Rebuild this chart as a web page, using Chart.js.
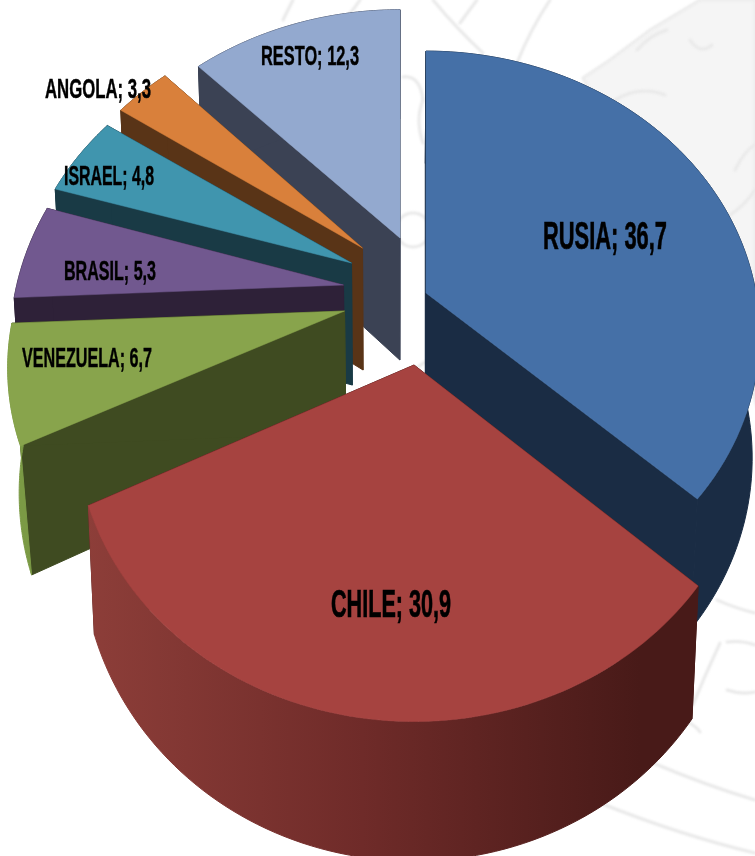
<!DOCTYPE html>
<html><head><meta charset="utf-8">
<style>html,body{margin:0;padding:0;background:#fff}canvas{display:block}</style>
<script src="https://cdn.jsdelivr.net/npm/chart.js@4"></script>
</head><body><canvas id="c" width="755" height="856"></canvas>
<script>
const categories = ["RUSIA","CHILE","VENEZUELA","BRASIL","ISRAEL","ANGOLA","RESTO"];
const shares = [36.7,30.9,6.7,5.3,4.8,3.3,12.3];
const topColors = ["#4570a7","#a64340","#88a44c","#71588f","#4095ae","#d9803b","#93a9cf"];
const sideColors = ["#1a2c44","#4a1b18","#3f4b21","#2e2138","#193a45","#593417","#3b4254"];
const rimColors = ["#1a2c44","#7a2f2c","#7b9a45","#2e2138","#193a45","#593417","#3b4254"];
// explosion of each slice relative to the pie centre and its perspective fit
const explode = [[48.5,-7],[36.5,65],[-33,11],[-34,-15],[-26,-37],[-15,-52],[22.5,-62]];
const fit = [{r:1,k:.84,p:.146,c:.02},{r:1.005,k:.86,p:.2,c:.02},{r:1,k:.83,p:.2,c:.03},{r:.99,k:.87,p:.2,c:.02},{r:.99,k:.84,p:.2,c:.02},{r:.98,k:.85,p:.2,c:.02},{r:1,k:.83,p:.2,c:.02}];
const drawOrder = [6,5,4,3,2,0,1];
// centre x, baseline y, cap-based font size, target width
const labelPos = [[605,249,39,124],[391,617,39,120],[87,367,27,130],[110,280,27,92],[109,185,27,90],[98,98,27,106],[310,65,27,98]];
const depth = 122;
// faint embossed seal behind the chart
const sealStrokes = [
  [[433,0],[458,30],[483,53]],[[477,0],[468,12],[460,23]],[[550,0],[530,30],[517,63]],
  [[293,0],[288,10],[283,20]],[[360,0],[354,9],[347,17]],
  [[403,77],[420,75],[423,100]],[[423,100],[415,120],[423,143]],
  [[380,395],[400,380],[425,362]],
  [[600,803],[680,835],[755,853]],[[653,763],[705,785],[755,800]],[[717,600],[735,608],[755,613]],
  [[720,643],[705,675],[692,707]],[[727,642],[742,640],[755,645]],[[727,690],[742,695],[755,692]],[[688,722],[697,727],[700,732]],
  [[637,50],[650,35],[667,30]],[[615,100],[640,85],[665,95]],[[735,170],[745,150],[755,145]],[[690,40],[700,55],[712,45]],[[730,215],[745,205],[755,190]]
];
const sealMap = [[583,78],[610,60],[650,30],[700,0],[755,0],[755,400],[735,330],[700,270],[640,180]];

const pie3d = {
  id:'pie3d',
  beforeDatasetDraw(){ return false; },
  beforeDraw(chart){
    const c=chart.ctx; c.save(); c.fillStyle='#fff'; c.fillRect(0,0,chart.width,chart.height);
    c.filter='blur(1px)';
    c.beginPath(); sealMap.forEach((q,j)=>j?c.lineTo(q[0],q[1]):c.moveTo(q[0],q[1])); c.closePath();
    c.fillStyle='#f5f5f5'; c.fill(); c.strokeStyle='#ececec'; c.lineWidth=3; c.stroke();
    c.lineCap='round'; c.strokeStyle='#e9e9e9'; c.lineWidth=3;
    sealStrokes.forEach(s=>{c.beginPath();c.moveTo(s[0][0],s[0][1]);c.quadraticCurveTo(s[1][0],s[1][1],s[2][0],s[2][1]);c.stroke();});
    c.beginPath(); c.arc(413,230,17,0,Math.PI*2); c.stroke();
    c.restore();
  },
  afterDatasetsDraw(chart){
    const ctx=chart.ctx, arcs=chart.getDatasetMeta(0).data;
    const vx=390;
    drawOrder.forEach(i=>{
      const a=arcs[i], f=fit[i], ax=a.x+explode[i][0], ay=a.y+explode[i][1], R=a.outerRadius*f.r;
      const P=t=>{const u=Math.cos(t),v=Math.sin(t),s=1/(1-f.p*v);return {x:ax+R*u*s,y:ay+f.k*R*v*s,s};};
      const L=q=>({x:q.x-(q.x-vx)*f.c,y:q.y+depth*Math.pow(q.s,.6)});
      const apex={x:ax,y:ay,s:1}, apexL=L(apex);
      const steps=[]; const n=80;
      for(let j=0;j<=n;j++) steps.push(P(a.startAngle+(a.endAngle-a.startAngle)*j/n));
      const poly=(pts,fill,lw)=>{ctx.beginPath();pts.forEach((q,j)=>j?ctx.lineTo(q.x,q.y):ctx.moveTo(q.x,q.y));ctx.closePath();ctx.fillStyle=fill;ctx.fill();ctx.strokeStyle=fill;ctx.lineWidth=lw;ctx.stroke();};
      poly([apex,steps[0],L(steps[0]),apexL],sideColors[i],1);
      poly([apex,steps[n],L(steps[n]),apexL],sideColors[i],1);
      let rim=rimColors[i];
      if(i===1){const g=ctx.createLinearGradient(85,0,640,0);g.addColorStop(0,'#8d3e39');g.addColorStop(.5,'#6f2b29');g.addColorStop(1,'#481a18');rim=g;}
      poly(steps.concat(steps.slice().reverse().map(L)),rim,1);
      poly([apex].concat(steps),a.options.backgroundColor,.5);
    });
    ctx.save();
    ctx.fillStyle='#000'; ctx.strokeStyle='#000'; ctx.textAlign='center'; ctx.textBaseline='alphabetic';
    categories.forEach((name,i)=>{
      const [x,y,size,w]=labelPos[i];
      const text=`${name}; ${String(shares[i]).replace('.',',')}`;
      ctx.font=`bold ${size}px "Liberation Sans"`;
      const sx=w/ctx.measureText(text).width;
      ctx.save(); ctx.translate(x,y); ctx.scale(sx,1);
      ctx.lineWidth=size/60; ctx.strokeText(text,0,0); ctx.fillText(text,0,0);
      ctx.restore();
    });
    ctx.restore();
  }
};

new Chart(document.getElementById('c'),{
  type:'pie',
  data:{labels:categories,datasets:[{data:shares,backgroundColor:topColors,borderWidth:0}]},
  options:{responsive:false,animation:false,radius:330,layout:{padding:{bottom:256}},
    plugins:{legend:{display:false},tooltip:{enabled:false}}},
  plugins:[pie3d]
});
</script></body></html>
